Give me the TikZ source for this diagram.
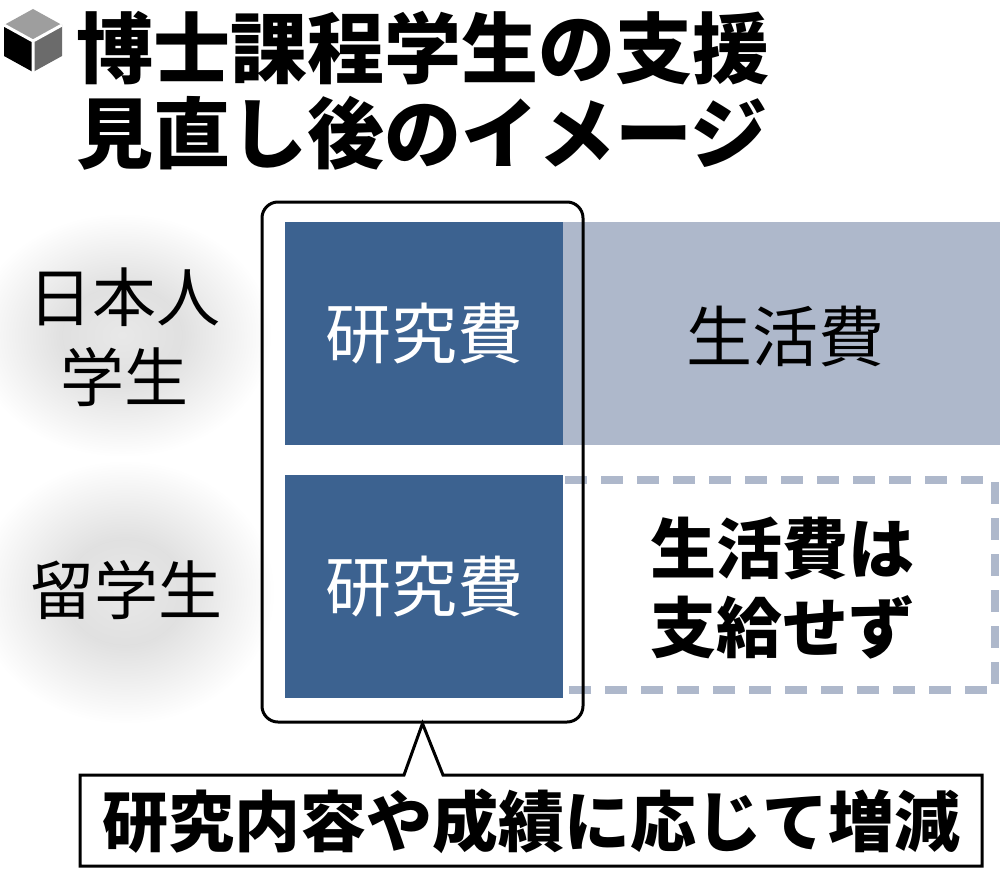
\documentclass[tikz,border=0pt]{standalone}
\usepackage{fontspec}
\newfontfamily\jp{Noto Sans CJK JP}
\usetikzlibrary{calc}
\definecolor{dblue}{HTML}{3C6290}
\definecolor{lblue}{HTML}{AEB8CB}
\pgfdeclareradialshading{glow}{\pgfpoint{0bp}{0bp}}{color(0bp)=(black!9); color(10bp)=(black!12); color(25bp)=(white); color(50bp)=(white)}
\tikzset{
  title/.style={anchor=west, inner sep=0pt, font={\jp\bfseries\fontsize{77}{77}\selectfont}},
  label/.style={inner sep=0pt, align=center, font={\jp\fontsize{64}{80}\selectfont}},
  big/.style={inner sep=0pt, align=center, font={\jp\fontsize{66}{79}\selectfont}},
  bigb/.style={inner sep=0pt, align=center, font={\jp\bfseries\fontsize{66}{79}\selectfont}},
  darkbox/.style={fill=dblue, minimum width=278pt, minimum height=223pt, inner sep=0pt, text=white, font={\jp\fontsize{66}{79}\selectfont}},
}
\begin{document}
\begin{tikzpicture}[x=1pt,y=-1pt]
\useasboundingbox (0,0) rectangle (1000,880);
\fill[white] (0,0) rectangle (1000,880);
% glows
\shade[shading=glow] (122,335) ellipse [x radius=150pt, y radius=122pt];
\shade[shading=glow] (125,592) ellipse [x radius=150pt, y radius=132pt];
% cube icon
\fill[black!38] (33,9) -- (62,25) -- (33,41) -- (4,25) -- cycle;
\fill[black] (4,25) -- (33,41) -- (33,72) -- (4,56) -- cycle;
\fill[black!58] (33,41) -- (62,25) -- (62,56) -- (33,72) -- cycle;
\draw[white, line width=3pt] (4,25) -- (33,41) -- (62,25) (33,41) -- (33,72);
% title
\node[title] (t1) at (76,48) {博士課程学生の支援};
\node[title] (t2) at (76,133) {見直し後のイメージ};
% labels
\node[label] (jp) at (124,337) {日本人\\学生};
\node[label] (intl) at (126,590) {留学生};
% living cost box
\node[fill=lblue, minimum width=437pt, minimum height=223pt, inner sep=0pt] (lifeA) at (781.5,333.5) {};
\node[big] (lifeAt) at (785,337) {生活費};
% dashed box
\coordinate (d1) at (565,480);
\coordinate (d2) at (995,480);
\coordinate (d3) at (995,690);
\coordinate (d4) at (565,690);
\draw[lblue, line width=8pt, dash pattern=on 22pt off 14pt] (d1) -- (d2) -- (d3) -- (d4);
\node[bigb] (lifeB) at (782,588) {生活費は\\支給せず};
% research boxes
\node[darkbox] (rA) at (424,333.5) {研究費};
\node[darkbox] (rB) at (424,586.5) {研究費};
% frame
\node[draw, line width=3pt, rounded corners=16pt, minimum width=321pt, minimum height=520pt, inner sep=0pt] (frame) at (422.5,462) {};
% callout
\coordinate (pl) at (404,775);
\coordinate (pr) at (443,775);
\coordinate (cTL) at (80,775);
\coordinate (cTR) at (982,775);
\coordinate (cBR) at (982,866);
\coordinate (cBL) at (80,866);
\draw[line width=3pt, fill=white, line join=miter] (cTL) -- (pl) -- (frame.south) -- (pr) -- (cTR) -- (cBR) -- (cBL) -- cycle;
\node[bigb] (cap) at (531,821) {研究内容や成績に応じて増減};
\end{tikzpicture}
\end{document}
